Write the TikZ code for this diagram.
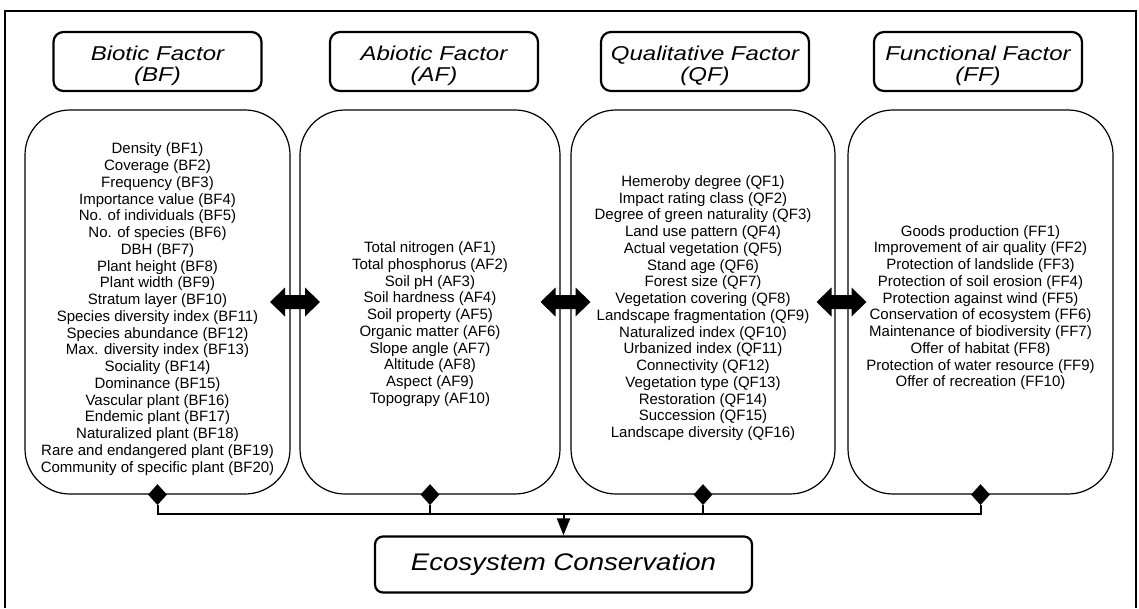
\documentclass[tikz,border=0pt]{standalone}
\usepackage{fontspec}
\setmainfont{Liberation Sans}
\newfontfamily\hdrfont[FakeStretch=1.2]{Liberation Sans}
\newfontfamily\ecofont[FakeStretch=1.15]{Liberation Sans}
\usetikzlibrary{calc,arrows.meta,shapes.geometric}
\begin{document}
\begin{tikzpicture}[x=1pt,y=-1pt,
  bigbox/.style={draw, line width=1.2pt, rounded corners=45pt, minimum height=384pt, inner sep=0pt},
  hdrbox/.style={draw, line width=2.2pt, rounded corners=10pt, minimum width=208pt, minimum height=59pt,
    align=center, inner sep=0pt, font=\hdrfont\itshape\fontsize{20}{21}\selectfont},
  ecobox/.style={draw, line width=2.2pt, rounded corners=8pt, minimum width=377pt, minimum height=56pt,
    inner sep=0pt, font=\ecofont\itshape\fontsize{24}{28}\selectfont},
  listtext/.style={align=center, inner sep=0pt, font=\fontsize{15}{16.75}\selectfont},
  dmd/.style={diamond, fill=black, inner sep=0pt, minimum width=19pt, minimum height=21pt},
  conn/.style={line width=2pt},
  dblarrow/.style={fill=black}
]
\useasboundingbox (0,0) rectangle (1139,608);
% outer frame
\draw[line width=1.2pt] (5,608) -- (5,11) -- (1136,11) -- (1136,608);

% headers
\node[hdrbox] (hbf) at (157.5,61.5) {\rule{0pt}{24pt}Biotic Factor\\(BF)};
\node[hdrbox] (haf) at (434,61.5) {\rule{0pt}{24pt}Abiotic Factor\\(AF)};
\node[hdrbox] (hqf) at (705,61.5) {\rule{0pt}{24pt}Qualitative Factor\\(QF)};
\node[hdrbox] (hff) at (978,61.5) {\rule{0pt}{24pt}Functional Factor\\(FF)};

% big boxes
\node[bigbox, minimum width=265pt] (bf) at (157.5,302) {};
\node[bigbox, minimum width=260pt] (af) at (430,302) {};
\node[bigbox, minimum width=264pt] (qf) at (703,302) {};
\node[bigbox, minimum width=265pt] (ff) at (980.5,302) {};

% lists
\node[listtext] (tbf) at (157.5,309) {Density (BF1)\\Coverage (BF2)\\Frequency (BF3)\\Importance value (BF4)\\No. of individuals (BF5)\\No. of species (BF6)\\DBH (BF7)\\Plant height (BF8)\\Plant width (BF9)\\Stratum layer (BF10)\\Species diversity index (BF11)\\Species abundance (BF12)\\Max. diversity index (BF13)\\Sociality (BF14)\\Dominance (BF15)\\Vascular plant (BF16)\\Endemic plant (BF17)\\Naturalized plant (BF18)\\Rare and endangered plant (BF19)\\Community of specific plant (BF20)};
\node[listtext] (taf) at (430,324) {Total nitrogen (AF1)\\Total phosphorus (AF2)\\Soil pH (AF3)\\Soil hardness (AF4)\\Soil property (AF5)\\Organic matter (AF6)\\Slope angle (AF7)\\Altitude (AF8)\\Aspect (AF9)\\Topograpy (AF10)};
\node[listtext] (tqf) at (703,308) {Hemeroby degree (QF1)\\Impact rating class (QF2)\\Degree of green naturality (QF3)\\Land use pattern (QF4)\\Actual vegetation (QF5)\\Stand age (QF6)\\Forest size (QF7)\\Vegetation covering (QF8)\\Landscape fragmentation (QF9)\\Naturalized index (QF10)\\Urbanized index (QF11)\\Connectivity (QF12)\\Vegetation type (QF13)\\Restoration (QF14)\\Succession (QF15)\\Landscape diversity (QF16)};
\node[listtext] (tff) at (980.5,307.5) {Goods production (FF1)\\Improvement of air quality (FF2)\\Protection of landslide (FF3)\\Protection of soil erosion (FF4)\\Protection against wind (FF5)\\Conservation of ecosystem (FF6)\\Maintenance of biodiversity (FF7)\\Offer of habitat (FF8)\\Protection of water resource (FF9)\\Offer of recreation (FF10)};

% double arrows
\coordinate (a1) at ($(bf.east)!0.5!(af.west)$);
\coordinate (a2) at ($(af.east)!0.5!(qf.west)$);
\coordinate (a3) at ($(qf.east)!0.5!(ff.west)$);
\foreach \c in {a1,a2,a3}{
  \fill[dblarrow] (\c) +(-25,0) -- +(-10,-14.5) -- +(-10,-7) -- +(10,-7) -- +(10,-14.5) -- +(25,0)
    -- +(10,14.5) -- +(10,7) -- +(-10,7) -- +(-10,14.5) -- cycle;
}

% ecosystem box
\node[ecobox] (eco) at (563.5,564.5) {Ecosystem Conservation};

% diamonds and connectors
\node[dmd] (d1) at (bf.south) {};
\node[dmd] (d2) at (af.south) {};
\node[dmd] (d3) at (qf.south) {};
\node[dmd] (d4) at (ff.south) {};
\coordinate (bus) at ($(eco.north)+(0,-21)$);
\draw[conn] (d1.south) |- (bus);
\draw[conn] (d2.south) |- (bus);
\draw[conn] (d3.south) |- (bus);
\draw[conn] (d4.south) |- (bus);
\draw[conn, -{Triangle[length=17pt, width=13pt]}] (bus) -- (eco.north);
\end{tikzpicture}
\end{document}
